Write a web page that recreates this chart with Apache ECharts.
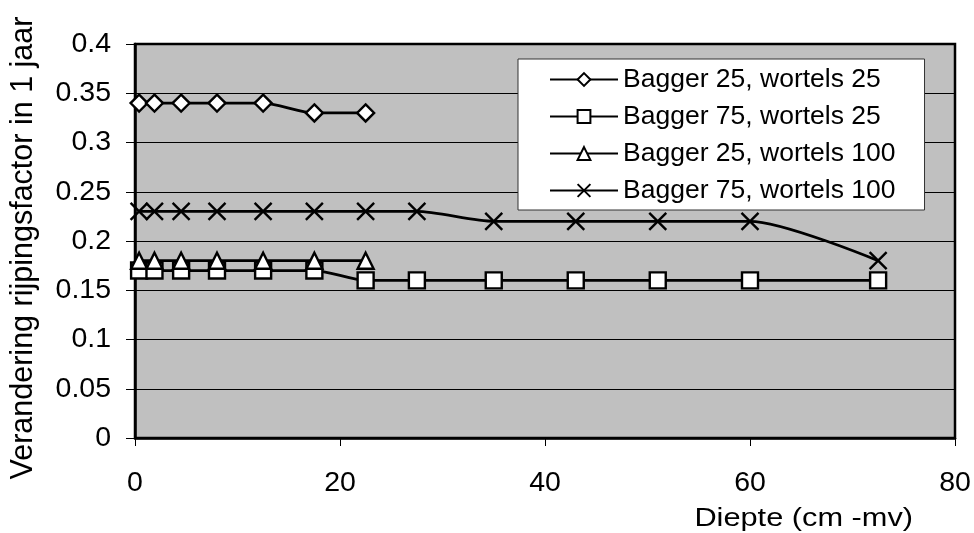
<!DOCTYPE html>
<html>
<head>
<meta charset="utf-8">
<script src="https://cdn.jsdelivr.net/npm/echarts@6/dist/echarts.min.js"></script>
<style>html,body{margin:0;padding:0;background:#fff}#c{width:974px;height:533px}</style>
</head>
<body>
<div id="c"></div>
<script>
var depthShort = [0.4, 1.9, 4.5, 8, 12.5, 17.5, 22.5];
var depthLong = [0.4, 1.9, 4.5, 8, 12.5, 17.5, 22.5, 27.5, 35, 43, 51, 60, 72.5];
var b25w25 = [0.34, 0.34, 0.34, 0.34, 0.34, 0.33, 0.33];
var b75w25 = [0.17, 0.17, 0.17, 0.17, 0.17, 0.17, 0.16, 0.16, 0.16, 0.16, 0.16, 0.16, 0.16];
var b25w100 = [0.18, 0.18, 0.18, 0.18, 0.18, 0.18, 0.18];
var b75w100 = [0.23, 0.23, 0.23, 0.23, 0.23, 0.23, 0.23, 0.23, 0.22, 0.22, 0.22, 0.22, 0.18];
var seriesNames = ['Bagger 25, wortels 25', 'Bagger 75, wortels 25', 'Bagger 25, wortels 100', 'Bagger 75, wortels 100'];
var xTicks = [0, 20, 40, 60, 80];
var xTitle = 'Diepte (cm -mv)';
var yTitle = 'Verandering rijpingsfactor in 1 jaar';

function pairs(xs, ys) { return ys.map(function (v, i) { return [xs[i], v]; }); }

var FONT = 'Liberation Sans, Arial, sans-serif';
var crossPath = 'path://M0,0L10,10M10,0L0,10';

function mk(name, data, symbol, size) {
  return {
    name: name, type: 'line', data: data, smooth: 0.25,
    symbol: symbol, symbolSize: size,
    lineStyle: { color: '#000', width: 2.8 },
    itemStyle: { color: symbol === crossPath ? 'rgba(0,0,0,0)' : '#fff', borderColor: '#000', borderWidth: 2.4 },
    emphasis: { disabled: true }
  };
}

var chart = echarts.init(document.getElementById('c'));
chart.setOption({
  animation: false,
  backgroundColor: '#fff',
  grid: { left: 135, right: 19, top: 44, bottom: 95, show: true, backgroundColor: '#C0C0C0', borderColor: '#000', borderWidth: 2.5 },
  legend: {
    orient: 'vertical', left: 518, top: 59,
    backgroundColor: '#fff', borderColor: '#333', borderWidth: 1,
    padding: [7, 29, 6, 31], itemGap: 10,
    itemWidth: 68, itemHeight: 16,
    textStyle: { fontFamily: FONT, fontSize: 26.5, color: '#000' },
    data: seriesNames
  },
  xAxis: {
    type: 'value', min: 0, max: 80, interval: 20,
    axisLine: { show: true, lineStyle: { color: '#000', width: 2.5 } },
    axisTick: { show: true, length: 8, lineStyle: { color: '#000', width: 1 } },
    axisLabel: { margin: 31, fontFamily: FONT, fontSize: 28.5, color: '#000',
      formatter: function (v) { return xTicks.indexOf(v) >= 0 ? String(v) : ''; } },
    splitLine: { show: false }
  },
  yAxis: {
    type: 'value', min: 0, max: 0.4, interval: 0.05,
    axisLine: { show: true, lineStyle: { color: '#000', width: 2.5 } },
    axisTick: { show: true, length: 9, lineStyle: { color: '#000', width: 1 } },
    axisLabel: { margin: 24, fontFamily: FONT, fontSize: 28.5, color: '#000',
      formatter: function (v) { return String(Math.round(v * 100) / 100); } },
    splitLine: { show: true, lineStyle: { color: '#000', width: 1 } }
  },
  graphic: [{
    type: 'text', x: 913, y: 519, scaleX: 1.16,
    style: { text: xTitle, fontFamily: FONT, fontSize: 26.5, fill: '#000', align: 'right', verticalAlign: 'middle' }
  }, {
    type: 'text', x: 24, y: 248, rotation: Math.PI / 2,
    style: { text: yTitle, fontFamily: FONT, fontSize: 30.5, fill: '#000', align: 'center', verticalAlign: 'middle' }
  }],
  series: [
    mk(seriesNames[0], pairs(depthShort, b25w25), 'diamond', 17),
    mk(seriesNames[1], pairs(depthLong, b75w25), 'rect', 16),
    mk(seriesNames[2], pairs(depthShort, b25w100), 'triangle', 16),
    mk(seriesNames[3], pairs(depthLong, b75w100), crossPath, 17)
  ]
});
</script>
</body>
</html>
